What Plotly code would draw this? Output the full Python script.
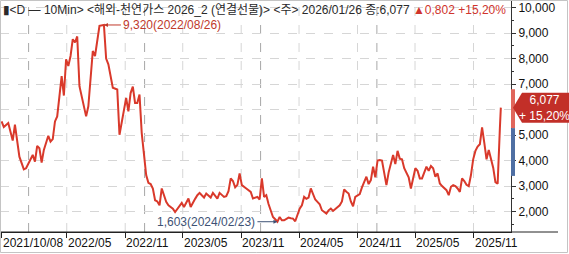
import plotly.graph_objects as go

# ---------------- data (weekly closes) ----------------
dates = [
    "2021-10-08", "2021-10-15", "2021-10-29", "2021-11-12", "2021-11-19", "2021-12-03",
    "2021-12-17", "2021-12-24", "2022-01-14", "2022-01-21", "2022-01-28", "2022-02-04",
    "2022-02-11", "2022-02-18", "2022-03-04", "2022-03-11", "2022-03-18", "2022-03-25",
    "2022-04-01", "2022-04-15", "2022-04-22", "2022-04-29", "2022-05-06", "2022-05-13",
    "2022-05-20", "2022-05-27", "2022-06-03", "2022-06-10", "2022-07-01", "2022-07-08",
    "2022-07-22", "2022-07-29", "2022-08-12", "2022-08-26", "2022-09-02", "2022-09-09",
    "2022-09-23", "2022-10-07", "2022-10-14", "2022-10-28", "2022-11-04", "2022-11-11",
    "2022-11-18", "2022-11-25", "2022-12-02", "2022-12-09", "2022-12-16", "2022-12-23",
    "2022-12-30", "2023-01-06", "2023-01-13", "2023-01-20", "2023-01-27", "2023-02-03",
    "2023-02-10", "2023-02-17", "2023-02-24", "2023-03-03", "2023-03-10", "2023-03-17",
    "2023-03-24", "2023-03-31", "2023-04-07", "2023-04-14", "2023-04-21", "2023-04-28",
    "2023-05-05", "2023-05-12", "2023-05-19", "2023-05-26", "2023-06-02", "2023-06-09",
    "2023-06-16", "2023-06-23", "2023-06-30", "2023-07-07", "2023-07-14", "2023-07-21",
    "2023-07-28", "2023-08-04", "2023-08-11", "2023-08-18", "2023-08-25", "2023-09-08",
    "2023-09-15", "2023-09-22", "2023-09-29", "2023-10-06", "2023-10-13", "2023-10-20",
    "2023-10-27", "2023-11-03", "2023-11-17", "2023-11-24", "2023-12-01", "2023-12-08",
    "2023-12-15", "2023-12-22", "2023-12-29", "2024-01-05", "2024-01-12", "2024-01-19",
    "2024-01-26", "2024-02-02", "2024-02-09", "2024-02-16", "2024-02-23", "2024-03-01",
    "2024-03-08", "2024-03-15", "2024-03-22", "2024-03-29", "2024-04-05", "2024-04-12",
    "2024-04-19", "2024-04-26", "2024-05-03", "2024-05-10", "2024-05-17", "2024-05-24",
    "2024-05-31", "2024-06-07", "2024-06-14", "2024-06-21", "2024-06-28", "2024-07-05",
    "2024-07-12", "2024-07-19", "2024-07-26", "2024-08-02", "2024-08-09", "2024-08-16",
    "2024-08-23", "2024-08-30", "2024-09-06", "2024-09-13", "2024-09-20", "2024-09-27",
    "2024-10-04", "2024-10-11", "2024-10-18", "2024-10-25", "2024-11-01", "2024-11-08",
    "2024-11-15", "2024-11-22", "2024-11-29", "2024-12-06", "2024-12-13", "2024-12-20",
    "2024-12-27", "2025-01-03", "2025-01-10", "2025-01-17", "2025-01-24", "2025-01-31",
    "2025-02-07", "2025-02-14", "2025-02-21", "2025-02-28", "2025-03-07", "2025-03-14",
    "2025-03-21", "2025-03-28", "2025-04-11", "2025-04-18", "2025-04-25", "2025-05-02",
    "2025-05-09", "2025-05-16", "2025-05-23", "2025-06-06", "2025-06-13", "2025-06-20",
    "2025-06-27", "2025-07-04", "2025-07-11", "2025-07-18", "2025-07-25", "2025-08-01",
    "2025-08-08", "2025-08-15", "2025-08-22", "2025-08-29", "2025-09-05", "2025-09-12",
    "2025-09-19", "2025-09-26", "2025-10-03", "2025-10-10", "2025-10-17", "2025-10-24",
    "2025-10-31", "2025-11-07", "2025-11-14", "2025-11-21", "2025-11-28", "2025-12-05",
    "2025-12-12", "2025-12-19", "2025-12-26", "2026-01-02", "2026-01-09", "2026-01-16",
    "2026-01-23", "2026-01-26",
]
prices = [
    5538, 5316, 5474, 4788, 5407, 4156,
    3658, 3698, 4223, 3958, 4578, 4487,
    3919, 4420, 4973, 4748, 4843, 5538,
    5735, 7314, 6552, 7974, 7709, 8104,
    8763, 8633, 8870, 6919, 5735, 6130,
    8301, 8104, 9290, 9320, 8000, 7776,
    6856, 6789, 5013, 6000, 6461, 5934,
    6650, 6900, 6264, 6264, 6592, 5080,
    4290, 3433, 3130, 3080, 2900, 2446,
    2400, 2249, 2908, 2600, 2380, 2249,
    2180, 2118, 1984, 2118, 2250, 2340,
    2182, 2350, 2513, 2182, 2316, 2500,
    2644, 2735, 2640, 2553, 2711, 2630,
    2553, 2735, 2620, 2513, 2735, 2577,
    2604, 2800, 3303, 3200, 2950, 3050,
    3500, 3039, 2908, 2840, 2774, 2513,
    2540, 2577, 2474, 3303, 2577, 2644,
    2300, 2000, 1787, 1700, 1603, 1787,
    1657, 1657, 1700, 1763, 1740, 1724,
    1620, 1850, 2118, 2249, 2577, 2500,
    2553, 2908, 2711, 2474, 2380, 2290,
    2053, 1980, 1921, 2050, 2118, 2027,
    2090, 2158, 2250, 2400, 2869, 2780,
    2711, 2400, 2211, 2577, 2640, 2685,
    2948, 3200, 3369, 3079, 3237, 3763,
    3343, 4000, 4026, 4000, 3500, 3039,
    3540, 3900, 4222, 3864, 4381, 4077,
    4050, 3700, 3343, 2908, 3300, 3700,
    3600, 3303, 3303, 3763, 3600, 3790,
    3700, 3369, 3500, 3105, 3000, 2908,
    2840, 2644, 2974, 3039, 3000, 2908,
    2775, 3303, 3200, 3050, 2997, 3435,
    4050, 4381, 4552, 4644, 5302, 4700,
    4050, 4420, 4000, 3724, 3158, 3092,
    5275, 6077,
]

x_tick_dates = ["2021-10-08", "2022-05-01", "2022-11-01", "2023-05-01", "2023-11-01",
                "2024-05-01", "2024-11-01", "2025-05-01", "2025-11-01"]
x_tick_labels = ["2021/10/08", "2022/05", "2022/11", "2023/05", "2023/11",
                 "2024/05", "2024/11", "2025/05", "2025/11"]
year_lines = ["2022-01-01", "2023-01-01", "2024-01-01", "2025-01-01"]
y_ticks = [2000, 3000, 4000, 5000, 6000, 7000, 8000, 9000, 10000]
y_tick_labels = ["2,000", "3,000", "4,000", "5,000", "", "7,000", "8,000", "9,000", "10,000"]

peak_date, peak_value, peak_label = "2022-08-26", 9320, "9,320(2022/08/26)"
low_date, low_value, low_label = "2024-02-23", 1603, "1,603(2024/02/23)"
last_value, prev_close = 6077, 5275
last_text = "6,077<br>+ 15,20%"
title_main = "▮&lt;D — 10Min&gt; &lt;해외-천연가스 2026_2 (연결선물)&gt; &lt;주&gt; 2026/01/26 종:6,077 "
title_change = "▲0,802 +15,20%"

# ---------------- layout constants ----------------
W, H = 569, 254
PW, PH = 511, 232           # plot area size in px
Y_RANGE = [1200, 10300]
X_RANGE = ["2021-10-03", "2026-02-27"]
FONT = "Liberation Sans, Noto Sans CJK KR, DejaVu Sans"
RED = "#d9392b"

def px_x(p):   # px offset from plot left -> paper
    return p / PW

def px_y(p):   # px from plot top -> paper
    return 1 - p / PH

ypx = (Y_RANGE[1] - Y_RANGE[0]) / PH   # value units per px

fig = go.Figure()
fig.add_trace(go.Scatter(x=dates, y=prices, mode="lines",
                         line=dict(color=RED, width=2), hoverinfo="skip"))

shapes = []
# vertical dashed grid
for d in x_tick_dates[1:]:
    shapes.append(dict(type="line", xref="x", yref="paper", x0=d, x1=d, y0=0, y1=1,
                       line=dict(color="#d6d6d6", width=1, dash="dash"), layer="below"))
for d in year_lines:
    shapes.append(dict(type="line", xref="x", yref="paper", x0=d, x1=d, y0=0, y1=1,
                       line=dict(color="#a8a8a8", width=1, dash="dash"), layer="below"))
# bars on the price axis
shapes.append(dict(type="rect", xref="paper", yref="y", x0=1.0, x1=px_x(PW + 4),
                   y0=prev_close, y1=6800, fillcolor="#e0665c", line=dict(width=0)))
shapes.append(dict(type="rect", xref="paper", yref="y", x0=1.0, x1=px_x(PW + 4),
                   y0=3400, y1=prev_close, fillcolor="#4f6fa3", line=dict(width=0)))
# x axis line extension and outer frame
shapes.append(dict(type="line", xref="paper", yref="paper", x0=0, x1=px_x(558), y0=0, y1=0,
                   line=dict(color="#222", width=1)))
shapes.append(dict(type="rect", xref="paper", yref="paper", x0=px_x(0.5), x1=px_x(W - 1.5),
                   y0=px_y(H - 1.5), y1=px_y(0.5), line=dict(color="#c4c4c4", width=1)))
# last price box
hh = 15 * ypx
xt, xb, xr = px_x(PW + 2), px_x(PW + 11), px_x(W + 2)
shapes.append(dict(type="path", xref="paper", yref="y",
                   path=f"M {xt},{last_value} L {xb},{last_value + hh} L {xr},{last_value + hh} "
                        f"L {xr},{last_value - hh} L {xb},{last_value - hh} Z",
                   fillcolor="#c22f28", line=dict(width=0)))

annotations = []
annotations.append(dict(xref="paper", yref="paper", x=px_x(1), y=px_y(9), xanchor="left",
                        yanchor="middle", showarrow=False,
                        text=title_main + f'<span style="color:#d0342c">{title_change}</span>',
                        font=dict(family=FONT, size=12, color="#2a2a2a")))
for d, t in zip(x_tick_dates, x_tick_labels):
    annotations.append(dict(xref="x", yref="paper", x=d, y=px_y(243), xanchor="left",
                            yanchor="middle", showarrow=False, text=t, xshift=-1,
                            font=dict(family=FONT, size=12, color="#111")))
annotations.append(dict(x=peak_date, y=peak_value, text=peak_label, showarrow=True,
                        ax=17, ay=0, xanchor="left", arrowhead=2, arrowsize=0.8,
                        arrowwidth=1, arrowcolor="#c0392b",
                        font=dict(family=FONT, size=12, color="#c0392b")))
annotations.append(dict(x=low_date, y=low_value, text=low_label, showarrow=True,
                        ax=-20, ay=0, xanchor="right", arrowhead=2, arrowsize=0.8,
                        arrowwidth=1, arrowcolor="#3e5275",
                        font=dict(family=FONT, size=12, color="#3e5275")))
annotations.append(dict(xref="paper", yref="y", x=px_x(544), y=last_value, text=last_text,
                        showarrow=False, xanchor="center", yanchor="middle",
                        font=dict(family=FONT, size=12, color="white")))

fig.update_layout(
    width=W, height=H,
    margin=dict(l=0, r=W - PW, t=0, b=H - PH, autoexpand=False),
    paper_bgcolor="white", plot_bgcolor="white",
    showlegend=False,
    shapes=shapes, annotations=annotations,
    font=dict(family=FONT, size=12, color="#111"),
    xaxis=dict(type="date", range=X_RANGE, showgrid=False, zeroline=False,
               showline=True, linecolor="#222", linewidth=1,
               tickvals=x_tick_dates, showticklabels=False,
               ticks="outside", ticklen=5, tickcolor="#222"),
    yaxis=dict(range=Y_RANGE, side="right", showline=True, linecolor="#333", linewidth=1,
               tickvals=y_ticks, ticktext=y_tick_labels, ticks="outside", ticklen=4,
               tickcolor="#333", showgrid=True, gridcolor="#d6d6d6", griddash="dash",
               zeroline=False, tickfont=dict(family=FONT, size=12, color="#111"),
               minor=dict(ticks="outside", ticklen=2, dtick=500, tick0=0, tickcolor="#333",
                          showgrid=False)),
)

fig.write_html("out.html")
